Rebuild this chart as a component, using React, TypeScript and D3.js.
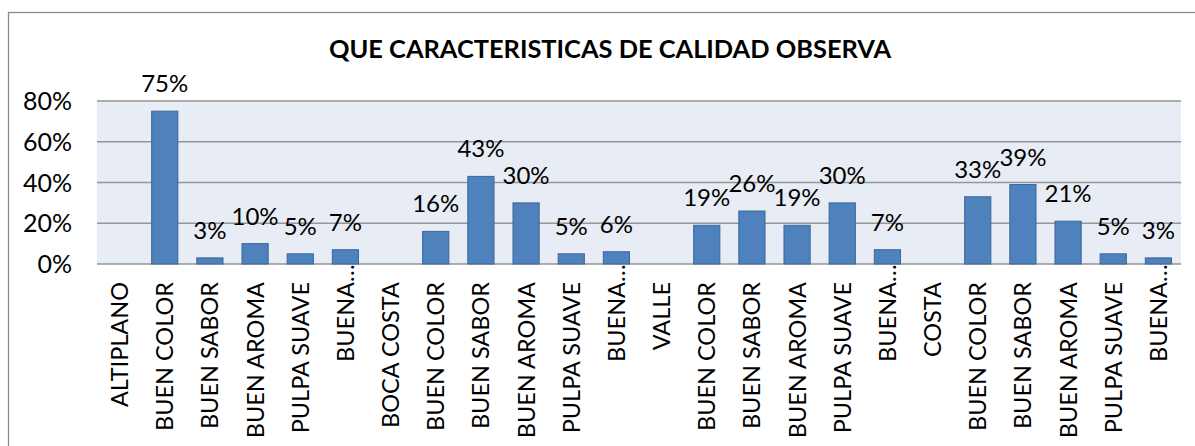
import React, { useRef, useEffect } from 'react';
import * as d3 from 'd3';

const TITLE = 'QUE CARACTERISTICAS DE CALIDAD OBSERVA';

const CATEGORIES: string[] = [
  'ALTIPLANO', 'BUEN COLOR', 'BUEN SABOR', 'BUEN AROMA', 'PULPA SUAVE', 'BUENA…',
  'BOCA COSTA', 'BUEN COLOR', 'BUEN SABOR', 'BUEN AROMA', 'PULPA SUAVE', 'BUENA…',
  'VALLE', 'BUEN COLOR', 'BUEN SABOR', 'BUEN AROMA', 'PULPA SUAVE', 'BUENA…',
  'COSTA', 'BUEN COLOR', 'BUEN SABOR', 'BUEN AROMA', 'PULPA SUAVE', 'BUENA…',
];

// null = group header, no bar
const VALUES: (number | null)[] = [
  null, 0.75, 0.03, 0.10, 0.05, 0.07,
  null, 0.16, 0.43, 0.30, 0.05, 0.06,
  null, 0.19, 0.26, 0.19, 0.30, 0.07,
  null, 0.33, 0.39, 0.21, 0.05, 0.03,
];

const Y_TICKS = [0, 0.2, 0.4, 0.6, 0.8];

const FONT = 'Lato, Carlito, "Open Sans", sans-serif';

const App: React.FC = () => {
  const svgRef = useRef<SVGSVGElement>(null);

  useEffect(() => {
    if (!svgRef.current) return;
    const W = 1195;
    const H = 446;
    const plot = { left: 97, right: 1181, top: 101, bottom: 264 };

    const svg = d3.select(svgRef.current);
    svg.selectAll('*').remove();

    svg.append('rect')
      .attr('x', 0).attr('y', 0).attr('width', W).attr('height', H)
      .attr('fill', '#fff');

    // chart frame
    svg.append('rect')
      .attr('x', 8.5).attr('y', 12.5)
      .attr('width', W + 20).attr('height', H + 20)
      .attr('fill', 'none')
      .attr('stroke', '#8a8a8a')
      .attr('stroke-width', 1.3);

    const idx = CATEGORIES.map((_, i) => String(i));
    const x = d3.scaleBand<string>()
      .domain(idx)
      .range([plot.left, plot.right])
      .paddingInner(0.42)
      .paddingOuter(0.21);
    const y = d3.scaleLinear().domain([0, 0.8]).range([plot.bottom, plot.top]);

    // plot background
    svg.append('rect')
      .attr('x', plot.left).attr('y', plot.top)
      .attr('width', plot.right - plot.left).attr('height', plot.bottom - plot.top)
      .attr('fill', '#e8ecf4');

    // grid lines
    svg.append('g')
      .selectAll('line')
      .data(Y_TICKS)
      .join('line')
      .attr('x1', plot.left)
      .attr('x2', plot.right)
      .attr('y1', d => y(d))
      .attr('y2', d => y(d))
      .attr('stroke', '#969696')
      .attr('stroke-width', 1.4);

    // y tick labels
    svg.append('g')
      .selectAll('text')
      .data(Y_TICKS)
      .join('text')
      .attr('x', 72)
      .attr('y', d => y(d))
      .attr('dy', '0.36em')
      .attr('text-anchor', 'end')
      .attr('font-family', FONT)
      .attr('font-size', 25)
      .attr('fill', '#000')
      .text(d => d3.format('.0%')(d));

    const bars = VALUES.map((v, i) => ({ v, i })).filter(d => d.v !== null) as { v: number; i: number }[];

    svg.append('g')
      .selectAll('rect')
      .data(bars)
      .join('rect')
      .attr('x', d => x(String(d.i))!)
      .attr('y', d => y(d.v))
      .attr('width', x.bandwidth())
      .attr('height', d => y(0) - y(d.v))
      .attr('fill', '#4f81bd')
      .attr('stroke', '#3a679b')
      .attr('stroke-width', 1);

    // data labels
    svg.append('g')
      .selectAll('text')
      .data(bars)
      .join('text')
      .attr('x', d => x(String(d.i))! + x.bandwidth() / 2)
      .attr('y', d => y(d.v) - 19)
      .attr('text-anchor', 'middle')
      .attr('font-family', FONT)
      .attr('font-size', 24)
      .attr('fill', '#000')
      .text(d => d3.format('.0%')(d.v));

    // category labels, rotated
    const labelTop = 282;
    const cat = svg.append('g')
      .selectAll('g')
      .data(CATEGORIES.map((c, i) => ({ c, i })))
      .join('g')
      .attr('transform', d => `translate(${x(String(d.i))! + x.bandwidth() / 2},${labelTop}) rotate(-90)`);

    cat.append('text')
      .attr('x', 0)
      .attr('dy', '0.36em')
      .attr('text-anchor', 'end')
      .attr('font-family', FONT)
      .attr('font-size', 23.5)
      .attr('fill', '#000')
      .text(d => d.c.replace('…', ''));

    cat.filter(d => d.c.endsWith('…'))
      .append('text')
      .attr('x', 0)
      .attr('dy', '0.36em')
      .attr('text-anchor', 'start')
      .attr('font-family', FONT)
      .attr('font-size', 23.5)
      .attr('fill', '#000')
      .text('…');

    // title
    svg.append('text')
      .attr('x', 610)
      .attr('y', 58)
      .attr('text-anchor', 'middle')
      .attr('font-family', FONT)
      .attr('font-size', 25.4)
      .attr('font-weight', 'bold')
      .attr('fill', '#000')
      .text(TITLE);
  }, []);

  return (
    <svg
      ref={svgRef}
      width={1195}
      height={446}
      style={{ position: 'absolute', left: 0, top: 0, display: 'block' }}
    />
  );
};

export default App;
